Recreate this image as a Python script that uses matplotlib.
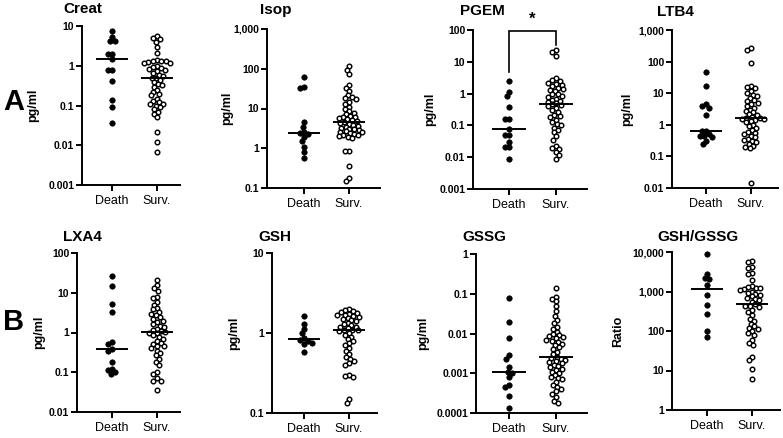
import numpy as np
import matplotlib
matplotlib.use("Agg")
import matplotlib.pyplot as plt
from matplotlib.ticker import NullLocator

plt.rcParams['font.family'] = ['Liberation Sans', 'DejaVu Sans']

groups = ['Death', 'Surv.']

creat_death = [7.5, 5.3, 4.2, 4.2, 2.0, 2.0, 1.5, 0.77, 0.77, 0.42, 0.134, 0.093, 0.037]
creat_surv = [5.5, 5.0, 4.6, 4.0, 3.0, 2.1, 1.4, 1.35, 1.3, 1.3, 1.25, 1.2, 1.15,
              1.0, 0.95, 0.9, 0.85, 0.8, 0.75, 0.65, 0.6, 0.55, 0.5, 0.5, 0.45,
              0.4, 0.35, 0.32, 0.3, 0.25, 0.22, 0.2, 0.18, 0.15, 0.13, 0.12, 0.11,
              0.11, 0.1, 0.09, 0.08, 0.07, 0.06, 0.05, 0.022, 0.012, 0.0068]

isop_death = [61, 34, 33, 4.5, 3.5, 2.5, 2.4, 2.3, 1.9, 1.5, 1.05, 0.8, 0.58]
isop_surv = [120, 95, 75, 38, 32, 28, 22, 20, 18, 17, 15, 13, 11, 9.5, 8.5, 7.8, 7.2,
             6.6, 6.2, 6.0, 5.8, 5.5, 5.2, 4.9, 4.6, 4.4, 4.1, 3.9, 3.7, 3.5, 3.3,
             3.1, 3.0, 2.9, 2.7, 2.6, 2.5, 2.4, 2.3, 2.2, 2.1, 2.0, 1.9, 1.8, 0.85,
             0.85, 0.35, 0.18, 0.15]

pgem_death = [2.5, 1.1, 0.84, 0.37, 0.16, 0.16, 0.076, 0.05, 0.05, 0.03, 0.021, 0.021, 0.009]
pgem_surv = [23, 20, 15, 3.0, 2.7, 2.5, 2.2, 2.0, 1.9, 1.7, 1.5, 1.4, 1.3, 1.2, 1.0,
             0.95, 0.85, 0.8, 0.7, 0.65, 0.6, 0.55, 0.5, 0.46, 0.44, 0.4, 0.35, 0.3,
             0.26, 0.22, 0.2, 0.18, 0.15, 0.13, 0.11, 0.1, 0.085, 0.07, 0.06, 0.045,
             0.035, 0.022, 0.02, 0.018, 0.015, 0.012, 0.009]

ltb4_death = [47, 17, 4.5, 4.0, 3.5, 2.1, 0.65, 0.62, 0.5, 0.45, 0.45, 0.42, 0.3, 0.24]
ltb4_surv = [270, 230, 90, 17, 16, 15, 12, 10, 9, 8, 7, 6, 5.5, 5, 4.5, 4, 3.5, 3,
             2.8, 2.5, 2.2, 2.0, 1.8, 1.7, 1.6, 1.5, 1.5, 1.4, 1.3, 1.2, 1.0, 0.9,
             0.8, 0.7, 0.6, 0.55, 0.5, 0.45, 0.4, 0.35, 0.32, 0.3, 0.28, 0.25, 0.22,
             0.2, 0.18, 0.014]

lxa4_death = [27, 15, 5.2, 3.2, 0.58, 0.52, 0.38, 0.35, 0.18, 0.12, 0.115, 0.1, 0.09]
lxa4_surv = [21, 16, 13, 11, 8, 7.5, 6, 5, 4.2, 3.8, 3.3, 3.0, 2.7, 2.4, 2.2, 2.0,
             1.8, 1.6, 1.5, 1.35, 1.25, 1.15, 1.1, 1.05, 1.0, 0.95, 0.85, 0.75, 0.7,
             0.6, 0.55, 0.5, 0.47, 0.45, 0.4, 0.35, 0.3, 0.27, 0.22, 0.18, 0.15, 0.1,
             0.09, 0.07, 0.06, 0.06, 0.035]

gsh_death = [1.65, 1.28, 1.12, 1.0, 0.86, 0.81, 0.8, 0.76, 0.72, 0.58]
gsh_surv = [2.0, 1.95, 1.9, 1.85, 1.8, 1.75, 1.7, 1.7, 1.65, 1.6, 1.55, 1.5, 1.45,
            1.4, 1.35, 1.3, 1.25, 1.2, 1.2, 1.15, 1.1, 1.1, 1.08, 1.06, 1.0, 0.95,
            0.9, 0.85, 0.8, 0.75, 0.7, 0.65, 0.6, 0.55, 0.5, 0.48, 0.45, 0.42, 0.4,
            0.3, 0.29, 0.28, 0.15, 0.135]

gssg_death = [0.078, 0.019, 0.0077, 0.0028, 0.0023, 0.0014, 0.0011, 0.001, 0.0008,
              0.0005, 0.00045, 0.00027, 0.00013]
gssg_surv = [0.14, 0.085, 0.075, 0.065, 0.048, 0.036, 0.028, 0.022, 0.018, 0.015,
             0.013, 0.011, 0.0095, 0.009, 0.0085, 0.008, 0.0075, 0.007, 0.0065,
             0.006, 0.0055, 0.005, 0.0045, 0.004, 0.0035, 0.003, 0.0026, 0.0024,
             0.0023, 0.0022, 0.002, 0.0019, 0.0018, 0.0016, 0.0015, 0.0014, 0.0013,
             0.0012, 0.0011, 0.001, 0.0009, 0.0008, 0.00075, 0.0007, 0.0006,
             0.0005, 0.00045, 0.0004, 0.00035, 0.0003, 0.00025, 0.0002, 0.00018]

ratio_death = [8800, 2750, 2200, 2100, 1500, 800, 450, 270, 100, 70]
ratio_surv = [5800, 5600, 4200, 4000, 3000, 2700, 1900, 1400, 1300, 1250, 1200, 1150,
              1100, 1000, 900, 850, 800, 750, 700, 650, 600, 550, 470, 440, 420, 400,
              350, 300, 250, 200, 180, 150, 130, 120, 110, 100, 90, 80, 60, 50, 45,
              22, 18, 11, 6]

titles = ['Creat', 'Isop', 'PGEM', 'LTB4', 'LXA4', 'GSH', 'GSSG', 'GSH/GSSG']
ylabels = ['pg/ml'] * 7 + ['Ratio']
yranges = [(0.001, 10), (0.1, 1000), (0.001, 100), (0.01, 1000),
           (0.01, 100), (0.1, 10), (0.0001, 1), (1, 10000)]
data = [(creat_death, creat_surv), (isop_death, isop_surv), (pgem_death, pgem_surv),
        (ltb4_death, ltb4_surv), (lxa4_death, lxa4_surv), (gsh_death, gsh_surv),
        (gssg_death, gssg_surv), (ratio_death, ratio_surv)]

# layout in pixels: left spine, right end, top, bottom, death x, surv x, title x, title y, ylabel x
layout = [
    (82, 180, 26, 185, 112, 157, 63, 9, 33),
    (267, 380, 29, 188, 304, 349, 260, 10, 227),
    (473, 587, 30, 189, 509, 556, 460, 11, 430),
    (672, 778, 30, 188, 706, 751, 657, 12, 627),
    (77, 180, 253, 412, 112, 157, 63, 237, 39),
    (272, 377, 253, 413, 304, 349, 258, 237, 234),
    (476, 587, 254, 413, 509, 556, 462, 237, 423),
    (672, 780, 252, 410, 707, 752, 657, 237, 618),
]

W, H = 783, 438
fig = plt.figure(figsize=(W / 100, H / 100), dpi=100)


def fmt(v):
    if v >= 1:
        return f"{int(round(v)):,}"
    n = int(round(-np.log10(v)))
    return f"{v:.{n}f}"


def swarm(ypix, d):
    order = np.argsort(-np.asarray(ypix))
    placed = []
    xs = np.zeros(len(ypix))
    for i in order:
        y = ypix[i]
        cands = [0.0]
        for px, py in placed:
            dy = y - py
            if abs(dy) < d:
                dx = np.sqrt(d * d - dy * dy)
                cands += [px + dx, px - dx]
        cands.sort(key=lambda c: (round(abs(c), 3), c))
        best = 0.0
        for c in cands:
            if all((c - px) ** 2 + (y - py) ** 2 >= d * d - 1e-6 for px, py in placed):
                best = c
                break
        xs[i] = best
        placed.append((best, y))
    return xs


axes = []
for k in range(8):
    L, R, T, B, D, S, tx, ty, lx = layout[k]
    ax = fig.add_axes([L / W, 1 - B / H, (R - L) / W, (B - T) / H])
    axes.append(ax)
    unit = S - D
    ax.set_xlim((L - D) / unit, 1 + (R - S) / unit)
    lo, hi = yranges[k]
    ax.set_yscale('log')
    ax.set_ylim(lo, hi)
    ticks = [10.0 ** e for e in range(int(round(np.log10(lo))), int(round(np.log10(hi))) + 1)]
    ax.set_yticks(ticks, labels=[fmt(t) for t in ticks], fontweight='bold', fontsize=7.5)
    ax.yaxis.set_minor_locator(NullLocator())
    ax.set_xticks([0, 1], labels=groups, fontsize=9)
    for s in ['top', 'right']:
        ax.spines[s].set_visible(False)
    for s in ['left', 'bottom']:
        ax.spines[s].set_linewidth(1.4)
    ax.tick_params(axis='y', length=4, width=1.4, pad=1.5)
    ax.tick_params(axis='x', length=4.5, width=1.4, pad=3)
    ax.patch.set_alpha(0)

    for g, vals in enumerate(data[k]):
        vals = np.asarray(vals, dtype=float)
        pts = ax.transData.transform(np.column_stack([np.full(len(vals), g), vals]))
        offs = swarm(pts[:, 1], 4.4)
        xd = ax.transData.inverted().transform(np.column_stack([pts[:, 0] + offs, pts[:, 1]]))[:, 0]
        if g == 0:
            ax.plot(xd, vals, 'o', ms=3.9, color='black', mec='black', mew=0.5,
                    clip_on=False, zorder=3)
        else:
            ax.plot(xd, vals, 'o', ms=3.3, mfc='white', mec='black', mew=1.05,
                    clip_on=False, zorder=3)
        med = np.median(vals)
        ax.plot([g - 0.36, g + 0.36], [med, med], color='black', lw=1.4, zorder=4,
                solid_capstyle='butt')

    fig.text(tx / W, 1 - ty / H, titles[k], ha='left', va='center',
             fontsize=11, fontweight='bold')
    fig.text(lx / W, 1 - ((T + B) / 2) / H, ylabels[k], rotation=90, ha='center',
             va='center', fontsize=9, fontweight='bold')

# significance bracket on PGEM
axp = axes[2]
axp.plot([0, 0, 1, 1], [4.9, 90, 90, 34], color='black', lw=1.2, clip_on=False,
         solid_joinstyle='miter')
axp.text(0.5, 130, '*', ha='center', va='bottom', fontsize=12, fontweight='bold')

fig.text(3 / W, 1 - 102 / H, 'A', ha='left', va='center', fontsize=21, fontweight='bold')
fig.text(3 / W, 1 - 322 / H, 'B', ha='left', va='center', fontsize=21, fontweight='bold')

fig.savefig('out.png', dpi=100)
